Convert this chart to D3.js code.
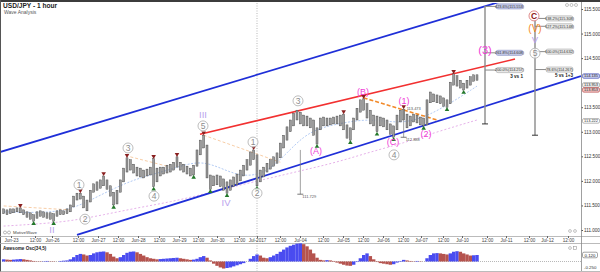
<!DOCTYPE html>
<html>
<head>
<meta charset="utf-8">
<script src="https://cdn.jsdelivr.net/npm/d3@7"></script>
<style>
  body { margin: 0; background: #fff; }
  svg { display: block; font-family: "Liberation Sans", Arial, sans-serif; }
</style>
</head>
<body>
<div id="chart"></div>
<script>
var highs = [111.43,111.41,111.43,111.43,111.45,111.45,111.41,111.37,111.35,111.31,
  111.37,111.39,111.37,111.35,111.35,111.33,111.39,111.41,111.39,111.43,
  111.51,111.69,111.75,111.75,111.69,111.61,111.81,111.94,111.98,112.02,
  112.10,112.02,111.90,111.77,111.81,112.02,112.26,112.47,112.43,112.34,
  112.28,112.26,112.22,112.24,112.28,112.45,112.26,112.28,112.28,112.32,
  112.34,112.38,112.49,112.38,112.34,112.30,112.26,112.32,112.63,112.83,
  112.93,112.73,112.12,112.10,112.12,112.10,112.04,111.98,112.02,112.08,
  112.14,112.22,112.32,112.43,112.59,112.63,112.53,112.22,112.28,112.36,
  112.43,112.49,112.57,112.77,112.93,113.10,113.24,113.38,113.44,113.40,
  113.34,113.32,113.28,113.24,113.08,113.28,113.30,113.28,113.28,113.30,
  113.32,113.34,113.36,113.14,113.08,113.28,113.48,113.65,113.67,113.57,
  113.44,113.34,113.32,113.30,113.28,113.24,113.16,113.12,113.34,113.44,
  113.46,113.36,113.32,113.36,113.34,113.30,113.28,113.65,113.81,113.77,
  113.75,113.73,113.69,113.65,114.01,114.18,114.14,114.05,113.99,114.05,
  114.12,114.16,114.16];
var lows = [111.33,111.31,111.33,111.35,111.37,111.35,111.31,111.26,111.22,111.18,
  111.24,111.28,111.26,111.24,111.22,111.18,111.28,111.31,111.31,111.33,
  111.37,111.47,111.61,111.63,111.45,111.39,111.57,111.77,111.81,111.85,
  111.90,111.83,111.69,111.51,111.53,111.77,111.98,112.18,112.22,112.16,
  112.10,112.08,112.06,112.10,112.12,111.88,111.98,112.10,112.14,112.16,
  112.18,112.22,112.28,112.22,112.18,112.14,112.10,112.12,112.30,112.53,
  112.67,112.06,111.83,111.90,111.92,111.88,111.81,111.75,111.81,111.88,
  111.92,112.00,112.10,112.22,112.32,112.43,111.90,111.98,112.08,112.18,
  112.24,112.30,112.36,112.47,112.67,112.83,113.00,113.12,113.24,113.16,
  113.12,113.12,113.08,112.93,112.75,113.04,113.12,113.12,113.14,113.16,
  113.16,113.12,113.04,112.87,112.83,113.04,113.24,113.40,113.44,113.28,
  113.16,113.12,113.00,113.12,113.10,113.04,112.95,112.89,113.04,113.20,
  113.24,113.08,113.12,113.20,113.18,113.14,113.12,113.14,113.59,113.61,
  113.59,113.57,113.52,113.50,113.57,113.95,113.93,113.89,113.85,113.89,
  113.95,114.03,114.05];

// Awesome oscillator, one value per bar
var osc = [0.04,0.035,0.03,0.035,0.04,0.045,0.04,0.03,0.02,0.01,
  0.005,-0.005,0.005,0.01,0.005,-0.005,0.0,0.01,0.015,0.02,
  0.04,0.08,0.12,0.14,0.13,0.11,0.12,0.15,0.17,0.18,
  0.185,0.17,0.14,0.09,0.06,0.08,0.12,0.16,0.18,0.185,
  0.17,0.14,0.11,0.08,0.06,0.05,0.04,0.045,0.05,0.055,
  0.06,0.065,0.07,0.06,0.05,0.04,0.03,0.035,0.05,0.08,
  0.10,0.07,0.02,-0.04,-0.08,-0.11,-0.13,-0.12,-0.11,-0.09,
  -0.07,-0.05,-0.03,0.0,0.05,0.10,0.13,0.11,0.07,0.06,
  0.08,0.11,0.14,0.18,0.22,0.26,0.29,0.31,0.33,0.335,
  0.32,0.28,0.22,0.15,0.07,0.03,0.02,0.025,0.02,0.01,
  -0.02,-0.04,-0.06,-0.075,-0.08,-0.06,-0.01,0.06,0.12,0.15,
  0.10,0.04,-0.01,-0.03,-0.04,-0.05,-0.06,-0.05,-0.02,0.01,
  0.03,0.02,0.01,0.005,0.01,0.005,0.0,0.06,0.12,0.15,
  0.155,0.15,0.14,0.13,0.15,0.18,0.19,0.18,0.15,0.13,
  0.11,0.115,0.12];

// moving averages, sampled
var maBars = [0,10,20,30,40,50,60,70,80,90,100,110,120,130,142];
var slowMA = [111.08,111.12,111.18,111.31,111.45,111.57,111.73,111.90,112.06,112.22,112.38,112.59,112.77,113.00,113.24];
var fastMA = [111.37,111.35,111.39,111.75,112.06,112.22,112.47,112.06,112.14,113.00,113.16,113.28,113.14,113.40,113.93];

// time axis
var tickLabels = ["Jun-23","12:00","Jun-26","12:00","Jun-27","12:00","Jun-28","12:00","Jun-29","12:00",
  "Jun-30","12:00","Jul-2017","12:00","Jul-04","12:00","Jul-05","12:00","Jul-06","12:00",
  "Jul-07","12:00","Jul-10","12:00","Jul-11","12:00","Jul-12","12:00"];
var tickBars = [2.2,9.4,14.5,22.3,28.3,34.3,40.3,46.6,52.6,58.3,
  64.0,70.6,76.0,82.9,88.9,95.8,101.8,107.8,113.8,119.8,
  125.2,131.8,137.5,145.0,150.7,157.6,163.0,169.3];
var monthBar = 76.0;

// fractal markers
var highMarks = [5,23,30,37,45,52,60,75,102,108,120,135];
var lowMarks = [9,15,33,45,57,62,67,76,94,104,112,117,126,133,138];

// trend lines [bar, price]
var channelUpper = [[-2,112.57],[150,115.67]];
var channelLower = [[22.0,110.90],[173.2,114.136]];
var redLine = [[58.9,112.95],[153.4,114.48]];
var orangeLines = [
  [[0,111.49],[20,111.41],0],
  [[38,112.49],[49,112.30],0],
  [[60,112.93],[83,112.38],0],
  [[108,113.69],[130,113.24],1]
];

// wave labels [text, bar, price, kind]
var waveLabels = [
  ["1",22.6,111.92,"circ"], ["2",24.4,111.22,"circ"], ["II",14.5,111.02,"roman"],
  ["3",37.3,112.67,"circ"], ["4",45.1,111.69,"circ"], ["III",59.8,113.36,"roman"],
  ["5",59.8,113.12,"circ"], ["IV",66.7,111.55,"roman"], ["1",74.8,112.79,"circ"],
  ["2",76.0,111.75,"circ"], ["3",88.3,113.63,"circ"], ["(A)",93.7,112.61,"wave"],
  ["(B)",107.8,113.81,"wave"], ["(C)",116.8,112.79,"wave"], ["4",117.1,112.53,"circ"],
  ["(1)",120.1,113.63,"wave"], ["(2)",126.7,112.95,"wave"], ["(3)",144.4,114.66,"big"],
  ["C",159.1,115.36,"redcirc"], ["(V)",159.4,115.11,"orange"], ["V",159.4,114.87,"roman"],
  ["5",159.4,114.60,"circ"]
];

// fibonacci projections
var fibs = [
  {bar: 144.4, top: 115.56, bottom: 113.16, note: "3 vs 1",
   levels: [["423.6%",115.553,1],["261.8%",114.608,1],["200.0%",114.257,0]]},
  {bar: 159.4, top: 115.28, bottom: 112.93, note: "5 vs 1+3",
   levels: [["138.2%",115.308,0],["127.2%",115.148,0],["100.0%",114.632,0],["78.6%",114.267,0]]}
];
var measures = [
  {bar: 89, hi: 112.63, lo: 111.729, lowText: "111.729"},
  {bar: 120, hi: 113.473, lo: 112.888, lowText: "112.888", hiText: "113.473"}
];

var priceTags = [["114.135","blue"],["113.953","gray"],["113.853","red"],["113.222","white"]];
// 114.000 sits under the price tags, so it is not labelled
var priceTicks = [111,111.5,112,112.5,113,113.5,114.5,115,115.5];

var W = 600, H = 272;
var plotR = 581, plotT = 3, plotB = 236, oscT = 243, oscB = 271;

var x = d3.scaleLinear().domain([-0.5, 173.2]).range([2, plotR]);
var y = d3.scaleLinear().domain([111, 115.5]).range([230, 9]);
var yo = d3.scaleLinear().domain([0, 0.12]).range([261.5, 255]);

var svg = d3.select("#chart").append("svg").attr("width", W).attr("height", H);
svg.append("rect").attr("width", W).attr("height", H).attr("fill", "#fff");

svg.append("clipPath").attr("id", "plotclip")
  .append("rect").attr("x", 1).attr("y", plotT).attr("width", plotR - 1).attr("height", plotB - plotT);
svg.append("clipPath").attr("id", "oscclip")
  .append("rect").attr("x", 1).attr("y", oscT).attr("width", plotR - 1).attr("height", oscB - oscT);

/* frame */
svg.append("rect").attr("x", 0).attr("y", 0).attr("width", W).attr("height", 2).attr("fill", "#3c3c3c");
svg.append("line").attr("x1", 0.5).attr("x2", 0.5).attr("y1", 0).attr("y2", H).attr("stroke", "#555");
[plotB + 0.5, oscT + 0.5, oscB + 0.5].forEach(function(v) {
  svg.append("line").attr("x1", 0).attr("x2", W).attr("y1", v).attr("y2", v).attr("stroke", "#aaa").attr("stroke-width", 0.8);
});

// month separator
svg.append("line").attr("x1", x(monthBar)).attr("x2", x(monthBar)).attr("y1", plotT).attr("y2", oscB)
  .attr("stroke", "#999").attr("stroke-width", 0.7).attr("stroke-dasharray", "1,1.5");

var plot = svg.append("g").attr("clip-path", "url(#plotclip)");

/* moving averages */
var maLine = d3.line().x(function(d) { return x(d[0]); }).y(function(d) { return y(d[1]); }).curve(d3.curveBasis);
plot.append("path").attr("d", maLine(maBars.map(function(b, i) { return [b, slowMA[i]]; })))
  .attr("fill", "none").attr("stroke", "#e2a8e6").attr("stroke-width", 0.9).attr("stroke-dasharray", "2,2");
plot.append("path").attr("d", maLine(maBars.map(function(b, i) { return [b, fastMA[i]]; })))
  .attr("fill", "none").attr("stroke", "#a9c4f2").attr("stroke-width", 0.9).attr("stroke-dasharray", "2,1.5");

/* orange wave connectors */
orangeLines.forEach(function(o) {
  plot.append("line").attr("x1", x(o[0][0])).attr("y1", y(o[0][1])).attr("x2", x(o[1][0])).attr("y2", y(o[1][1]))
    .attr("stroke", o[2] ? "#f28a2a" : "#f6c79c")
    .attr("stroke-width", o[2] ? 1.6 : 0.9)
    .attr("stroke-dasharray", o[2] ? "4,2" : "3,2");
});

/* channel and resistance */
function seg(p, color, w) {
  plot.append("line").attr("x1", x(p[0][0])).attr("y1", y(p[0][1])).attr("x2", x(p[1][0])).attr("y2", y(p[1][1]))
    .attr("stroke", color).attr("stroke-width", w);
}
seg(channelUpper, "#1f2fd8", 1.8);
seg(channelLower, "#1f2fd8", 1.8);
seg(redLine, "#f23030", 1.6);

/* price bars */
plot.selectAll(".bar").data(highs).enter().append("rect")
  .attr("class", "bar")
  .attr("x", function(d, i) { return x(i) - 1; })
  .attr("width", 2)
  .attr("y", function(d) { return y(d); })
  .attr("height", function(d, i) { return Math.max(1, y(lows[i]) - y(d)); })
  .attr("fill", "#9c9c9c").attr("stroke", "#3a3a3a").attr("stroke-width", 0.4);

/* fractal markers */
var tri = d3.symbol().type(d3.symbolTriangle).size(9);
plot.selectAll(".hm").data(highMarks).enter().append("path")
  .attr("d", tri)
  .attr("transform", function(i) { return "translate(" + x(i) + "," + (y(highs[i]) - 2.5) + ") rotate(180)"; })
  .attr("fill", "#8a1f1f");
plot.selectAll(".lm").data(lowMarks).enter().append("path")
  .attr("d", tri)
  .attr("transform", function(i) { return "translate(" + x(i) + "," + (y(lows[i]) + 2.5) + ")"; })
  .attr("fill", "#23782a");

/* small measuring tools */
measures.forEach(function(m) {
  var mx = x(m.bar);
  plot.append("line").attr("x1", mx).attr("x2", mx).attr("y1", y(m.hi)).attr("y2", y(m.lo)).attr("stroke", "#777").attr("stroke-width", 0.7);
  plot.append("line").attr("x1", mx - 3).attr("x2", mx + 3).attr("y1", y(m.lo)).attr("y2", y(m.lo)).attr("stroke", "#555").attr("stroke-width", 0.8);
  plot.append("text").attr("x", mx + 2).attr("y", y(m.lo) + 4).attr("font-size", 4).attr("fill", "#555").text(m.lowText);
  if (m.hiText) plot.append("text").attr("x", mx + 3).attr("y", y(m.hi) + 1.5).attr("font-size", 4).attr("fill", "#555").text(m.hiText);
});

/* fib projections */
fibs.forEach(function(f) {
  var fx = x(f.bar);
  plot.append("line").attr("x1", fx).attr("x2", fx).attr("y1", y(f.top)).attr("y2", y(f.bottom)).attr("stroke", "#8a8a8a").attr("stroke-width", 1.4);
  plot.append("line").attr("x1", fx - 3).attr("x2", fx + 3).attr("y1", y(f.bottom)).attr("y2", y(f.bottom)).attr("stroke", "#333").attr("stroke-width", 1);
  var bx = fx + 11, last = 0;
  f.levels.forEach(function(l) {
    var ly = y(l[1]);
    plot.append("line").attr("x1", fx).attr("x2", bx).attr("y1", ly).attr("y2", ly).attr("stroke", "#8a8a8a").attr("stroke-width", 1);
    var t = l[0] + "(" + d3.format(".3f")(l[1]) + ")";
    plot.append("rect").attr("x", bx).attr("y", ly - 2.6).attr("width", 27).attr("height", 5.2).attr("rx", 2)
      .attr("fill", l[2] ? "#c4c9e8" : "#e8e8e8").attr("stroke", l[2] ? "#7c84bd" : "#9a9a9a").attr("stroke-width", 0.5);
    plot.append("text").attr("x", bx + 13.5).attr("y", ly + 1.4).attr("text-anchor", "middle")
      .attr("font-size", 3.8).attr("fill", "#333").text(t);
    last = ly;
  });
  plot.append("text").attr("x", bx + 27).attr("y", last + 7.5).attr("text-anchor", "end")
    .attr("font-size", 4.6).attr("font-weight", "bold").attr("fill", "#222").text(f.note);
});

/* wave labels */
waveLabels.forEach(function(w) {
  var lx = x(w[1]), ly = y(w[2]);
  var g = plot.append("g").attr("transform", "translate(" + lx + "," + ly + ")");
  var t = g.append("text").attr("text-anchor", "middle").attr("dominant-baseline", "central").text(w[0]);
  if (w[3] === "circ") {
    g.insert("circle", "text").attr("r", 5).attr("fill", "rgba(255,255,255,0.7)").attr("stroke", "#b4b4b4").attr("stroke-width", 0.9);
    t.attr("font-size", 8.5).attr("fill", "#8c8c8c");
  } else if (w[3] === "redcirc") {
    g.insert("circle", "text").attr("r", 5).attr("fill", "#fff").attr("stroke", "#e08a8a").attr("stroke-width", 1);
    t.attr("font-size", 8.5).attr("fill", "#8e1414").attr("font-weight", "bold");
  } else if (w[3] === "roman") {
    t.attr("font-size", 9.5).attr("fill", "#b9a2ee");
  } else if (w[3] === "orange") {
    t.attr("font-size", 10).attr("fill", "#f5891e");
  } else if (w[3] === "big") {
    t.attr("font-size", 11).attr("fill", "#f03ad6");
  } else {
    t.attr("font-size", 9).attr("fill", "#f03ad6");
  }
});

/* price axis */
var pAxis = svg.append("g").attr("transform", "translate(" + plotR + ",0)")
  .call(d3.axisRight(y).tickValues(priceTicks).tickFormat(d3.format(".3f")).tickSize(2).tickPadding(1));
pAxis.select(".domain").remove();
pAxis.selectAll("line").attr("stroke", "#555");
pAxis.selectAll("text").attr("font-size", 4.6).attr("fill", "#333");
var minor = svg.append("g").attr("transform", "translate(" + plotR + ",0)")
  .call(d3.axisRight(y).tickValues(d3.range(22, 232).map(function(v) { return v / 20; }).filter(function(v) { return v <= 115.6; }))
    .tickFormat("").tickSize(1));
minor.select(".domain").remove();
minor.selectAll("line").attr("stroke", "#777").attr("stroke-width", 0.5);
svg.append("line").attr("x1", plotR + 0.5).attr("x2", plotR + 0.5).attr("y1", 2).attr("y2", oscB)
  .attr("stroke", "#888").attr("stroke-width", 0.8);

priceTags.forEach(function(p) {
  var ty = y(+p[0]);
  var fill = {blue: "#c9cdef", gray: "#efefef", red: "#f3c6c6", white: "#fff"}[p[1]];
  var stroke = {blue: "#3a48b0", gray: "#888", red: "#b03a3a", white: "#888"}[p[1]];
  svg.append("rect").attr("x", plotR + 1.5).attr("y", ty - 2.3).attr("width", 17).attr("height", 4.6).attr("rx", 1.5)
    .attr("fill", fill).attr("stroke", stroke).attr("stroke-width", 0.6);
  svg.append("text").attr("x", plotR + 10).attr("y", ty + 1.4).attr("text-anchor", "middle")
    .attr("font-size", 3.9).attr("fill", "#222").text(p[0]);
});

/* time axis */
var tAxis = svg.append("g").attr("transform", "translate(0," + plotB + ")")
  .call(d3.axisBottom(x).tickValues(tickBars).tickFormat(function(d, i) { return tickLabels[i]; }).tickSize(2).tickPadding(1));
tAxis.select(".domain").remove();
tAxis.selectAll("line").attr("stroke", "#666");
tAxis.selectAll("text").attr("font-size", 4.6).attr("fill", "#444");

/* oscillator */
var oscG = svg.append("g").attr("clip-path", "url(#oscclip)");
oscG.append("line").attr("x1", 2).attr("x2", plotR).attr("y1", yo(0)).attr("y2", yo(0))
  .attr("stroke", "#999").attr("stroke-width", 0.7).attr("stroke-dasharray", "1,1");
oscG.selectAll(".ao").data(osc).enter().append("rect")
  .attr("x", function(d, i) { return x(i) - 1.67; })
  .attr("width", 3.4)
  .attr("y", function(d) { return Math.min(yo(d), yo(0)); })
  .attr("height", function(d) { return Math.abs(yo(d) - yo(0)); })
  .attr("fill", function(d, i) { return i > 0 && d < osc[i - 1] ? "#b5534e" : "#4a4cf0"; });

svg.append("text").attr("x", 3).attr("y", 250).attr("font-size", 4.6).attr("font-weight", "bold").attr("fill", "#222")
  .text("Awesome Osc(34,5)");
svg.append("rect").attr("x", plotR + 1.5).attr("y", yo(0.12) - 2.8).attr("width", 15).attr("height", 5.6).attr("rx", 1.5)
  .attr("fill", "#fff").attr("stroke", "#666").attr("stroke-width", 0.6);
svg.append("text").attr("x", plotR + 9).attr("y", yo(0.12) + 1.6).attr("text-anchor", "middle").attr("font-size", 4.4).attr("fill", "#222").text("0.120");
svg.append("text").attr("x", plotR + 3).attr("y", oscB - 2).attr("font-size", 4.4).attr("fill", "#333").text("-0.250");

/* headings and small widgets */
svg.append("text").attr("x", 3).attr("y", 8).attr("font-size", 6.6).attr("font-weight", "bold").attr("fill", "#222").text("USD/JPY - 1 hour");
svg.append("text").attr("x", 4).attr("y", 14).attr("font-size", 5).attr("fill", "#555").text("Wave Analysis");
svg.append("text").attr("x", 13).attr("y", 234).attr("font-size", 4.4).attr("fill", "#444").text("MotiveWave");
[5, 9].forEach(function(cx) {
  svg.append("circle").attr("cx", cx).attr("cy", 232.5).attr("r", 1.5).attr("fill", "none").attr("stroke", "#777").attr("stroke-width", 0.5);
});
[567, 571.5, 576].forEach(function(cx) {
  svg.append("circle").attr("cx", cx).attr("cy", 5).attr("r", 1.5).attr("fill", "none").attr("stroke", "#999").attr("stroke-width", 0.6);
});
[570, 575].forEach(function(cx) {
  svg.append("circle").attr("cx", cx).attr("cy", 231).attr("r", 1.4).attr("fill", "none").attr("stroke", "#999").attr("stroke-width", 0.6);
});
svg.append("circle").attr("cx", 570).attr("cy", 248).attr("r", 1.4).attr("fill", "none").attr("stroke", "#999").attr("stroke-width", 0.6);
svg.append("rect").attr("x", 573.5).attr("y", 246.5).attr("width", 3).attr("height", 3).attr("fill", "none").attr("stroke", "#999").attr("stroke-width", 0.6);
</script>
</body>
</html>
